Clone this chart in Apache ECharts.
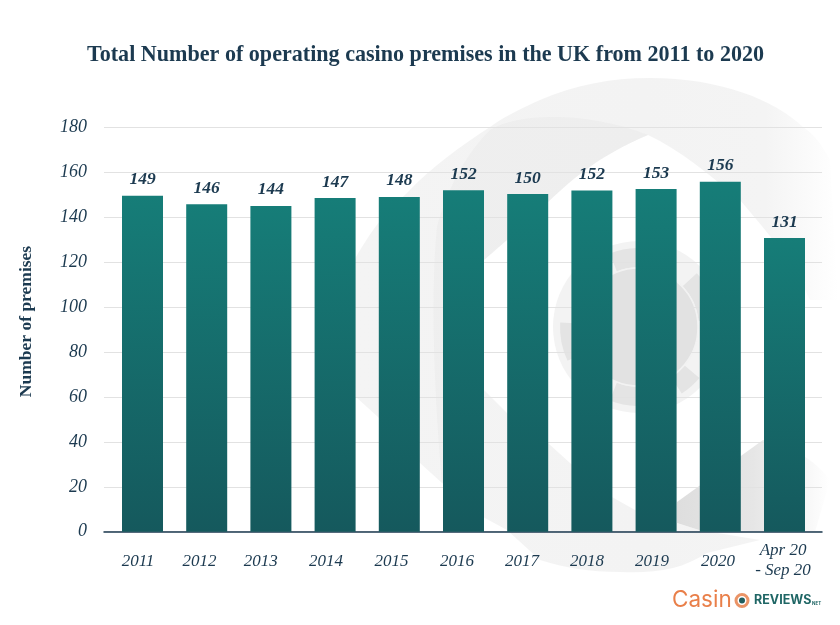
<!DOCTYPE html>
<html>
<head>
<meta charset="utf-8">
<style>
  html, body { margin: 0; padding: 0; background: #fff; }
  #chart { width: 840px; height: 625px; }
</style>
<script src="https://cdn.jsdelivr.net/npm/echarts@6/dist/echarts.min.js"></script>
</head>
<body>
<div id="chart"></div>
<script>
// values
var categories = ['2011', '2012', '2013', '2014', '2015', '2016', '2017', '2018', '2019', '2020', 'Apr 20\n- Sep 20'];
var barHeights = [149.5, 145.8, 145, 148.5, 149, 152, 150.3, 151.9, 152.5, 155.8, 130.7];
var printedValues = ['149', '146', '144', '147', '148', '152', '150', '152', '153', '156', '131'];
var yTicks = { min: 0, max: 180, interval: 20 };

// the source labels sit a little left of their bars
var labelShift = [4.5, 7.2, 10.2, 9.1, 7.8, 6.5, 5.7, 4.9, 4.1, 2.3, 1.5];

var textColor = '#1c3a50';
var serif = '"Liberation Serif", serif';

var chart = echarts.init(document.getElementById('chart'));

function fade(stops) {
  return new echarts.graphic.LinearGradient(0, 0, 1, 0, stops.map(function (s) {
    return { offset: s[0], color: s[1] };
  }));
}

// watermark outlines, the graphic component has no plain svg path type
echarts.graphic.registerShape('wmBand', echarts.graphic.extendPath('M354 320C352 300 350 272 356 257C375 225 385 213 407 193C430 168 462 145 490 127C510 113 525 107 540 100C575 85 610 78 650 78C720 78 775 100 803 127C815 135 822 145 830 160L838 300L810 300C795 265 770 235 740 200C710 175 680 150 648 135C600 155 570 180 540 210L507 240L484 260C465 285 458 310 462 330C465 355 475 375 484 390L507 413L548 443L570 463L612 497L635 510L699 530L760 540L707 553C695 560 685 565 673 568C655 572 640 573 620 572C590 572 565 568 540 560L507 530L483 517L442 483L420 463L378 417L356 397Z', {}));
echarts.graphic.registerShape('wmFold', echarts.graphic.extendPath('M490 130C520 112 590 112 648 135C600 155 570 180 540 210L507 240L484 260C465 285 458 310 462 330C465 355 475 375 484 390L470 440L442 483C435 400 430 300 437 227C447 190 465 155 490 130Z', {}));
echarts.graphic.registerShape('wmLower', echarts.graphic.extendPath('M677 502L763 440C790 445 815 460 830 480L815 532L699 530L677 523Z', {}));

// background watermark and logo, not data
var watermark = [
  { type: 'wmBand', z: -10, style: { fill: fade([[0, '#f4f4f4'], [0.6, '#f3f3f3'], [0.85, '#f4f4f4'], [1, '#ffffff']]) } },
  { type: 'wmFold', z: -9, style: { fill: 'rgba(225,225,225,0.25)' } },
  { type: 'wmLower', z: -9, style: { fill: fade([[0, '#dedede'], [0.5, '#e6e6e6'], [1, '#ffffff']]) } },
  { type: 'circle', z: -8, shape: { cx: 639, cy: 327, r: 86 }, style: { fill: '#f3f3f3' } },
  { type: 'sector', z: -7, shape: { cx: 639, cy: 327, r0: 60, r: 79, startAngle: -1.95, endAngle: -1.6 }, style: { fill: '#e4e4e4' } },
  { type: 'sector', z: -7, shape: { cx: 639, cy: 327, r0: 60, r: 79, startAngle: -0.75, endAngle: -0.1 }, style: { fill: '#e4e4e4' } },
  { type: 'sector', z: -7, shape: { cx: 639, cy: 327, r0: 60, r: 79, startAngle: 0.7, endAngle: 1.0 }, style: { fill: '#e4e4e4' } },
  { type: 'sector', z: -7, shape: { cx: 639, cy: 327, r0: 60, r: 79, startAngle: 1.6, endAngle: 1.95 }, style: { fill: '#e4e4e4' } },
  { type: 'sector', z: -7, shape: { cx: 639, cy: 327, r0: 60, r: 79, startAngle: 2.7, endAngle: 3.2 }, style: { fill: '#e4e4e4' } },
  { type: 'circle', z: -6, shape: { cx: 639, cy: 327, r: 59 }, style: { fill: '#e2e2e2', stroke: '#f2f2f2', lineWidth: 1.5 } }
];

var logo = [
  { type: 'text', left: 672, top: 589, style: { text: 'Casin', fill: '#e97f49', font: '400 22.5px "Inter", sans-serif' } },
  { type: 'circle', shape: { cx: 742, cy: 600.5, r: 6 }, style: { fill: '#fff', stroke: '#ea9467', lineWidth: 3 } },
  { type: 'circle', shape: { cx: 742, cy: 600.5, r: 3 }, style: { fill: '#1f5d5e' } },
  { type: 'text', left: 754, top: 594, style: { text: 'REVIEWS', fill: '#1f6665', font: '700 12.5px "Inter", sans-serif' } },
  { type: 'text', left: 812, top: 601, style: { text: 'NET', fill: '#1f6665', font: '700 4.5px "Inter", sans-serif' } }
];

var option = {
  animation: false,
  backgroundColor: '#fff',
  title: {
    text: 'Total Number of operating casino premises in the UK from 2011 to 2020',
    left: 82,
    top: 39,
    textStyle: { fontFamily: serif, fontSize: 22.1, fontWeight: 'bold', color: textColor }
  },
  graphic: watermark.concat(logo),
  grid: [
    { left: 110.4, right: 23.4, top: 127.3, bottom: 93.3 },
    { left: 104, right: 18, top: 127.3, bottom: 93.3 }
  ],
  xAxis: [
    {
      type: 'category',
      gridIndex: 0,
      data: categories.map(function (c, i) {
        // one line labels are pushed down to the middle of the two line one
        var padTop = c.indexOf('\n') < 0 ? 11 : 0;
        return { value: c, textStyle: { padding: [padTop, labelShift[i] * 2, 0, 0] } };
      }),
      axisLine: { show: false },
      axisTick: { show: false },
      axisLabel: {
        interval: 0,
        margin: 8.5,
        fontFamily: serif,
        fontStyle: 'italic',
        fontSize: 17,
        lineHeight: 20,
        color: textColor
      }
    },
    {
      type: 'category',
      gridIndex: 1,
      data: categories,
      axisLine: { lineStyle: { color: textColor, width: 1.5 } },
      axisTick: { show: false },
      axisLabel: { show: false }
    }
  ],
  yAxis: [
    {
      type: 'value',
      gridIndex: 0,
      min: yTicks.min,
      max: yTicks.max,
      interval: yTicks.interval,
      axisLine: { show: false },
      axisTick: { show: false },
      axisLabel: { show: false },
      splitLine: { show: false }
    },
    {
      type: 'value',
      gridIndex: 1,
      min: yTicks.min,
      max: yTicks.max,
      interval: yTicks.interval,
      name: 'Number of premises',
      nameLocation: 'middle',
      nameGap: 69,
      nameTextStyle: { fontFamily: serif, fontSize: 17.5, fontWeight: 'bold', color: textColor, padding: [0, 0, 0, 16] },
      axisLine: { show: false },
      axisTick: { show: false },
      axisLabel: {
        margin: 17,
        fontFamily: serif,
        fontStyle: 'italic',
        fontSize: 18,
        color: textColor
      },
      splitLine: { lineStyle: { color: '#e2e2e2', width: 1 } }
    }
  ],
  series: [
    {
      type: 'bar',
      xAxisIndex: 0,
      yAxisIndex: 0,
      data: barHeights,
      barWidth: 41,
      itemStyle: {
        color: new echarts.graphic.LinearGradient(0, 0, 0, 1, [
          { offset: 0, color: '#167d78' },
          { offset: 1, color: '#15595d' }
        ])
      },
      label: {
        show: true,
        position: 'top',
        distance: 7,
        formatter: function (p) { return printedValues[p.dataIndex]; },
        fontFamily: serif,
        fontStyle: 'italic',
        fontWeight: 'bold',
        fontSize: 17.5,
        color: textColor
      }
    }
  ]
};

chart.setOption(option);
</script>
</body>
</html>
